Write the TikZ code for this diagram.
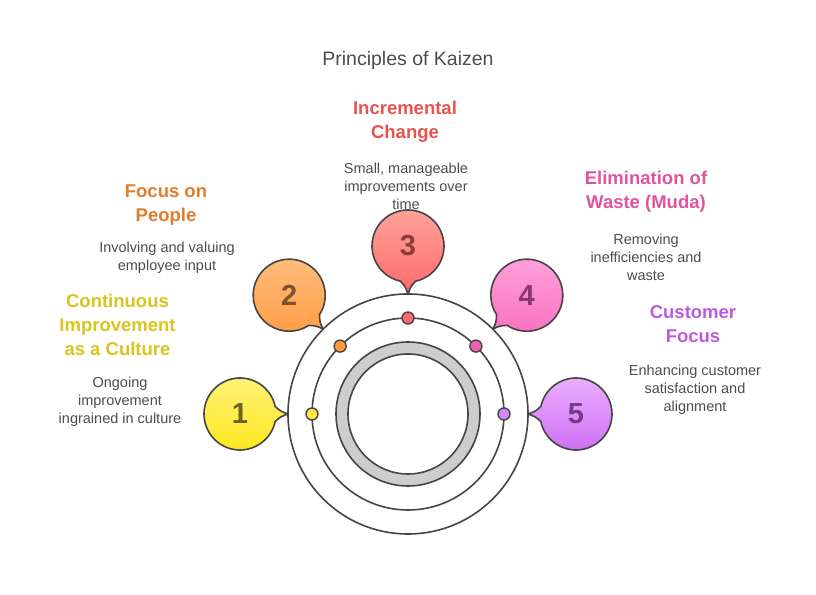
\documentclass[tikz,border=0pt]{standalone}
\usepackage{fontspec}
\setmainfont{Liberation Sans}
\usetikzlibrary{calc}
\definecolor{linegray}{HTML}{454545}
\definecolor{ringgray}{HTML}{CDCDCD}
\definecolor{txtgray}{HTML}{4D4D4D}
\definecolor{yT}{HTML}{DBC41B}
\definecolor{oT}{HTML}{E07E2C}
\definecolor{rT}{HTML}{E8534F}
\definecolor{pT}{HTML}{E0539F}
\definecolor{vT}{HTML}{BA5CE0}
\definecolor{yA}{HTML}{FFF27A}\definecolor{yB}{HTML}{FFE81C}\definecolor{yN}{HTML}{6E6322}\definecolor{yD}{HTML}{FFE83A}
\definecolor{oA}{HTML}{FFBE80}\definecolor{oB}{HTML}{FF9E45}\definecolor{oN}{HTML}{7D5230}\definecolor{oD}{HTML}{FF9A3C}
\definecolor{rA}{HTML}{FFA39A}\definecolor{rB}{HTML}{FF6B6B}\definecolor{rN}{HTML}{8B3B3B}\definecolor{rD}{HTML}{FF6B6B}
\definecolor{pA}{HTML}{FFA3DA}\definecolor{pB}{HTML}{F870C0}\definecolor{pN}{HTML}{8A3A6C}\definecolor{pD}{HTML}{F060B4}
\definecolor{vA}{HTML}{EDB0FF}\definecolor{vB}{HTML}{CC6EF2}\definecolor{vN}{HTML}{7A3A8C}\definecolor{vD}{HTML}{D688F5}
\tikzset{
  ringline/.style={draw=linegray, line width=1.6pt},
  bubbleline/.style={draw=linegray, line width=1.6pt, line join=round},
  dotnode/.style={circle, draw=linegray, line width=1.4pt, minimum size=12pt, inner sep=0pt},
  numtext/.style={font=\fontsize{29}{32}\selectfont\bfseries},
  headtext/.style={align=center, font=\fontsize{18.5}{24}\selectfont\bfseries},
  desctext/.style={align=center, text=txtgray, font=\fontsize{14.5}{18}\selectfont},
}
\newcommand\kzbubble[5]{%
  \coordinate (b#5) at ($(O)+(#1:168)$);
  \coordinate (tip#5) at ($(b#5)+(#1+180:48)$);
  \draw[bubbleline, top color=#2, bottom color=#3]
    ($(b#5)+(#1+192:36)$) arc[start angle=#1+192, end angle=#1+528, radius=36]
    .. controls ($(b#5)+(#1+176.5:41)$) .. (tip#5)
    .. controls ($(b#5)+(#1+183.5:41)$) .. cycle;
  \node[numtext, text=#4] (n#5) at (b#5) {#5};
}
\begin{document}
\begin{tikzpicture}[x=1pt,y=1pt]
\useasboundingbox[fill=white] (0,0) rectangle (816,594);
\coordinate (O) at (408,180);
\node[font=\fontsize{19.5}{24}\selectfont, text=txtgray] (title) at (408,534) {Principles of Kaizen};
% rings
\draw[ringline] (O) circle[radius=120];
\draw[ringline] (O) circle[radius=96];
\fill[ringgray, even odd rule] (O) circle[radius=72] (O) circle[radius=60];
\draw[ringline] (O) circle[radius=72];
\draw[ringline] (O) circle[radius=60];
% dots
\node[dotnode, fill=yD] (d1) at ($(O)+(180:96)$) {};
\node[dotnode, fill=oD] (d2) at ($(O)+(135:96)$) {};
\node[dotnode, fill=rD] (d3) at ($(O)+(90:96)$) {};
\node[dotnode, fill=pD] (d4) at ($(O)+(45:96)$) {};
\node[dotnode, fill=vD] (d5) at ($(O)+(0:96)$) {};
% bubbles
\kzbubble{180}{yA}{yB}{yN}{1}
\kzbubble{135}{oA}{oB}{oN}{2}
\kzbubble{90}{rA}{rB}{rN}{3}
\kzbubble{45}{pA}{pB}{pN}{4}
\kzbubble{0}{vA}{vB}{vN}{5}
% texts
\node[headtext, text=rT] (h3) at (405,472) {Incremental\\Change};
\node[desctext] (t3) at (406,408) {Small, manageable\\improvements over\\time};
\node[headtext, text=oT] (h2) at (166,389) {Focus on\\People};
\node[desctext] (t2) at (167,336) {Involving and valuing\\employee input};
\node[headtext, text=yT] (h1) at (117.5,269.5) {Continuous\\Improvement\\as a Culture};
\node[desctext] (t1) at (120,192) {Ongoing\\improvement\\ingrained in culture};
\node[headtext, text=pT] (h4) at (646,402) {Elimination of\\Waste (Muda)};
\node[desctext] (t4) at (646,337) {Removing\\inefficiencies and\\waste};
\node[headtext, text=vT] (h5) at (693,269.5) {Customer\\Focus};
\node[desctext] (t5) at (695,204) {Enhancing customer\\satisfaction and\\alignment};
\end{tikzpicture}
\end{document}
